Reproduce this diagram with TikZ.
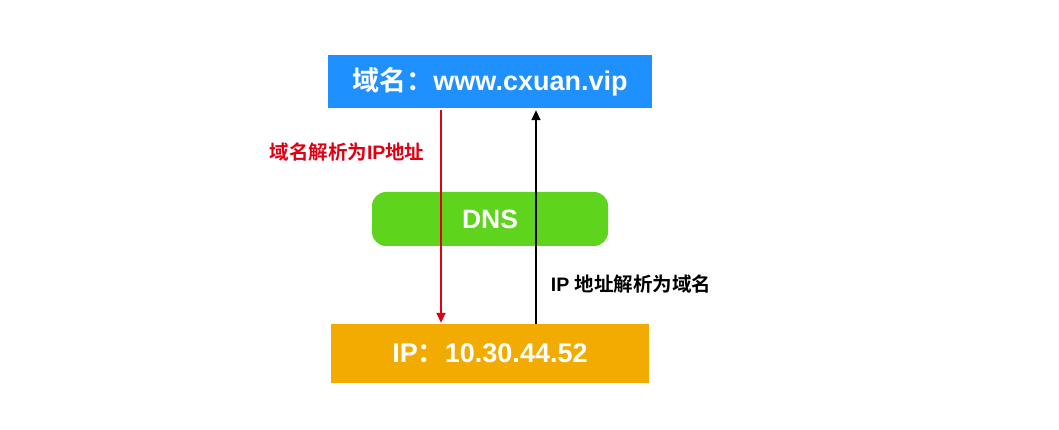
\documentclass[tikz,border=0pt]{standalone}
\usepackage{fontspec}
\setmainfont{Liberation Sans}
\newfontfamily\cjk{Noto Sans CJK SC}[BoldFont={* Bold}]
\usetikzlibrary{arrows.meta}
\definecolor{topblue}{RGB}{30,144,255}
\definecolor{dnsgreen}{RGB}{94,212,28}
\definecolor{iporange}{RGB}{242,171,0}
\definecolor{arrred}{RGB}{224,0,20}
\begin{document}
\begin{tikzpicture}[x=1pt,y=-1pt,
  box/.style={inner sep=0pt,text=white,font=\bfseries\fontsize{27}{31}\selectfont},
  lbl/.style={inner sep=0pt,font=\bfseries\fontsize{19.5}{23}\selectfont},
  conn/.style={line width=1.6pt,-{Triangle[width=9pt,length=10pt]}}]
\useasboundingbox (0,0) rectangle (1059,430);
\node[box,fill=topblue,minimum width=324pt,minimum height=53pt] (top) at (490,81.5) {{\cjk 域名：}www.cxuan.vip};
\node[box,fill=dnsgreen,rounded corners=14pt,minimum width=236pt,minimum height=54pt,font=\bfseries\fontsize{26.5}{30}\selectfont] (dns) at (490,219) {DNS};
\node[box,fill=iporange,minimum width=318pt,minimum height=59pt] (ip) at (490,353.5) {IP{\cjk ：}10.30.44.52};
\coordinate (rx) at (441,0);
\coordinate (bx) at (536,0);
\draw[conn,arrred] ([yshift=-2pt]top.south -| rx) -- ([yshift=1pt]ip.north -| rx);
\draw[conn,black] (ip.north -| bx) -- ([yshift=-2pt]top.south -| bx);
\node[lbl,text=arrred] (l1) at (347,152) {{\cjk 域名解析为}IP{\cjk 地址}};
\node[lbl,text=black] (l2) at (631,284) {IP {\cjk 地址解析为域名}};
\end{tikzpicture}
\end{document}
